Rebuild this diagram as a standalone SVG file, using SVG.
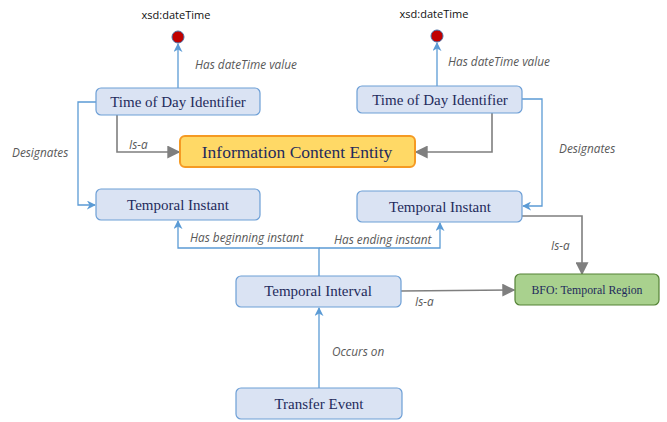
<svg xmlns="http://www.w3.org/2000/svg" width="667" height="422" viewBox="0 0 667 422">
  <style>
    .node rect { fill: #dae3f3; stroke: #6d9fd6; stroke-width: 1.2; }
    .node text { font-family: "Liberation Serif", "Times New Roman", serif; font-size: 15px; fill: #1f2b5c; text-anchor: middle; }
    .blue { fill: none; stroke: #5b9bd5; stroke-width: 1.3; }
    .gray { fill: none; stroke: #7f7f7f; stroke-width: 1.6; }
    .lbl { font-family: "Open Sans", "DejaVu Sans", sans-serif; font-size: 11.8px; font-style: italic; fill: #595959; }
    .dt { font-family: "Open Sans", "DejaVu Sans", sans-serif; font-size: 11px; fill: #111; text-anchor: middle; }
    .lit { fill: #c00000; stroke: #4a6fa5; stroke-width: 1; }
  </style>
  <defs>
    <marker id="arrBlue" viewBox="0 0 10 10" refX="9" refY="5" markerWidth="9" markerHeight="9" markerUnits="userSpaceOnUse" orient="auto">
      <path d="M0,0 L10,5 L0,10 L3,5 Z" fill="#5b9bd5"/>
    </marker>
    <marker id="arrGray" viewBox="0 0 10 10" refX="9" refY="5" markerWidth="13" markerHeight="13" markerUnits="userSpaceOnUse" orient="auto">
      <path d="M0,0 L10,5 L0,10 Z" fill="#7f7f7f"/>
    </marker>
  </defs>

  <!-- connectors -->
  <g id="connectors">
    <!-- Has dateTime value -->
    <path class="blue" d="M178,88 V44" marker-end="url(#arrBlue)"/>
    <path class="blue" d="M437,86 V43" marker-end="url(#arrBlue)"/>
    <!-- Designates -->
    <path class="blue" d="M96,102 H78 V205 H95" marker-end="url(#arrBlue)"/>
    <path class="blue" d="M522,99 H542 V206 H523" marker-end="url(#arrBlue)"/>
    <!-- Is-a to Information Content Entity -->
    <path class="gray" d="M117,115 V152 H179" marker-end="url(#arrGray)"/>
    <path class="gray" d="M492,113 V152 H416" marker-end="url(#arrGray)"/>
    <!-- Temporal Instant Is-a BFO -->
    <path class="gray" d="M522,216 H582 V274" marker-end="url(#arrGray)"/>
    <!-- Temporal Interval Is-a BFO -->
    <path class="gray" d="M401,291 L514,290" marker-end="url(#arrGray)"/>
    <!-- beginning / ending instant -->
    <path class="blue" d="M319,276 V248 H178 V221" marker-end="url(#arrBlue)"/>
    <path class="blue" d="M319,248 H440 V223" marker-end="url(#arrBlue)"/>
    <!-- Occurs on -->
    <path class="blue" d="M319,388 V308" marker-end="url(#arrBlue)"/>

    <text class="lbl" x="195" y="69">Has dateTime value</text>
    <text class="lbl" x="448" y="66">Has dateTime value</text>
    <text class="lbl" x="12" y="157">Designates</text>
    <text class="lbl" x="559" y="153">Designates</text>
    <text class="lbl" x="129" y="149">Is-a</text>
    <text class="lbl" x="551" y="250">Is-a</text>
    <text class="lbl" x="415" y="306">Is-a</text>
    <text class="lbl" x="190" y="242">Has beginning instant</text>
    <text class="lbl" x="334" y="244">Has ending instant</text>
    <text class="lbl" x="332" y="356">Occurs on</text>
  </g>

  <!-- literal values -->
  <g id="lit-left">
    <text class="dt" x="176" y="19">xsd:dateTime</text>
    <circle class="lit" cx="178" cy="37" r="6"/>
  </g>
  <g id="lit-right">
    <text class="dt" x="434" y="18">xsd:dateTime</text>
    <circle class="lit" cx="437" cy="36" r="6"/>
  </g>

  <g id="tdi-left" class="node">
    <rect x="96" y="88" width="164" height="27" rx="5"/>
    <text x="178" y="107">Time of Day Identifier</text>
  </g>
  <g id="tdi-right" class="node">
    <rect x="357" y="86" width="165" height="27" rx="5"/>
    <text x="440" y="105">Time of Day Identifier</text>
  </g>
  <g id="ice">
    <rect x="180" y="136" width="235" height="31" rx="5" fill="#ffd966" stroke="#f59a23" stroke-width="2"/>
    <text x="297" y="158" font-family="Liberation Serif, Times New Roman, serif" font-size="17.5" fill="#1f2b5c" text-anchor="middle">Information Content Entity</text>
  </g>
  <g id="ti-left" class="node">
    <rect x="96" y="189" width="164" height="31" rx="5"/>
    <text x="178" y="210">Temporal Instant</text>
  </g>
  <g id="ti-right" class="node">
    <rect x="357" y="191" width="165" height="31" rx="5"/>
    <text x="440" y="212">Temporal Instant</text>
  </g>
  <g id="interval" class="node">
    <rect x="236" y="276" width="165" height="31" rx="5"/>
    <text x="318" y="296">Temporal Interval</text>
  </g>
  <g id="bfo">
    <rect x="515" y="274" width="144" height="31" rx="5" fill="#a9d18e" stroke="#548235" stroke-width="1.2"/>
    <text x="587" y="294" font-family="Liberation Serif, Times New Roman, serif" font-size="11.8" fill="#1f2b5c" text-anchor="middle">BFO: Temporal Region</text>
  </g>
  <g id="transfer" class="node">
    <rect x="236" y="388" width="166" height="31" rx="5"/>
    <text x="319" y="409">Transfer Event</text>
  </g>
</svg>
